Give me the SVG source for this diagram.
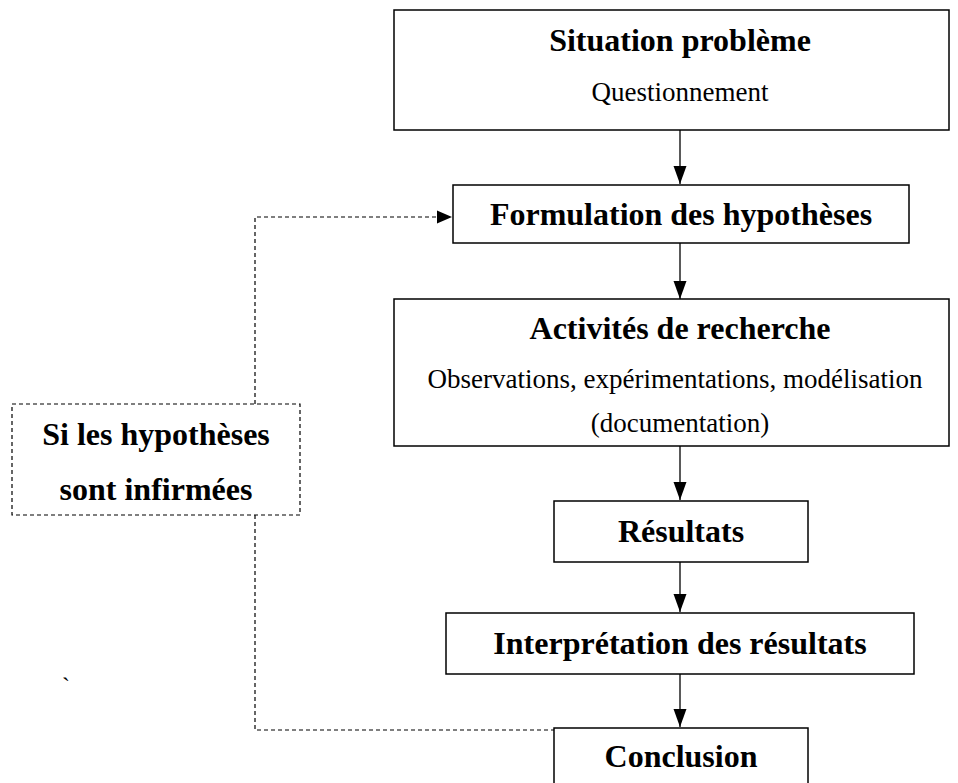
<svg xmlns="http://www.w3.org/2000/svg" width="958" height="783" viewBox="0 0 958 783">
<defs>
<style>
.box{fill:#fff;stroke:#000;stroke-width:1.5}
.dbox{fill:#fff;stroke:#000;stroke-width:1.2;stroke-dasharray:4 3}
.t{font-family:"Liberation Serif","Times New Roman",serif;font-weight:bold;font-size:32px;fill:#000;text-anchor:middle}
.r{font-family:"Liberation Serif","Times New Roman",serif;font-size:27px;fill:#000;text-anchor:middle}
.c{fill:none;stroke:#000;stroke-width:1.3}
.d{fill:none;stroke:#000;stroke-width:1.2;stroke-dasharray:4 3}
</style>
<marker id="ah" viewBox="0 0 10 10" refX="10" refY="5" markerWidth="15" markerHeight="15" markerUnits="userSpaceOnUse" orient="auto">
<path d="M0,0.7 L10,5 L0,9.3 z" fill="#000"/>
</marker>
<marker id="ah2" viewBox="0 0 10 10" refX="10" refY="5" markerWidth="18" markerHeight="18" markerUnits="userSpaceOnUse" orient="auto">
<path d="M0,1.4 L10,5 L0,8.6 z" fill="#000"/>
</marker>
</defs>
<rect width="958" height="783" fill="#fff"/>
<g id="connectors">
<line class="c" x1="680" y1="130" x2="680" y2="184" marker-end="url(#ah2)"/>
<line class="c" x1="680" y1="243" x2="680" y2="299" marker-end="url(#ah2)"/>
<line class="c" x1="680" y1="446" x2="680" y2="500" marker-end="url(#ah2)"/>
<line class="c" x1="680" y1="562" x2="680" y2="612" marker-end="url(#ah2)"/>
<line class="c" x1="680" y1="674" x2="680" y2="727" marker-end="url(#ah2)"/>
<polyline class="d" points="255,404 255,217 452,217" marker-end="url(#ah)"/>
<polyline class="d" points="555,730 255,730 255,515"/>
</g>
<g id="situation">
<rect class="box" x="394" y="10" width="555" height="120"/>
<text class="t" x="680" y="51">Situation problème</text>
<text class="r" x="680" y="101">Questionnement</text>
</g>
<g id="formulation">
<rect class="box" x="453" y="185" width="456" height="58"/>
<text class="t" x="681" y="225">Formulation des hypothèses</text>
</g>
<g id="activites">
<rect class="box" x="394" y="299" width="555" height="147"/>
<text class="t" x="680" y="339">Activités de recherche</text>
<text class="r" x="675" y="388">Observations, expérimentations, modélisation</text>
<text class="r" x="680" y="432">(documentation)</text>
</g>
<g id="resultats">
<rect class="box" x="554" y="501" width="254" height="61"/>
<text class="t" x="681" y="542">Résultats</text>
</g>
<g id="interpretation">
<rect class="box" x="446" y="613" width="468" height="61"/>
<text class="t" x="680" y="654">Interprétation des résultats</text>
</g>
<g id="conclusion">
<rect class="box" x="554" y="728" width="254" height="70"/>
<text class="t" x="681" y="767">Conclusion</text>
</g>
<g id="infirmees">
<rect class="dbox" x="12" y="404" width="288" height="111"/>
<text class="t" x="156" y="445">Si les hypothèses</text>
<text class="t" x="156" y="500">sont infirmées</text>
</g>
<text class="r" x="66" y="694" style="font-size:24px">`</text>
</svg>
